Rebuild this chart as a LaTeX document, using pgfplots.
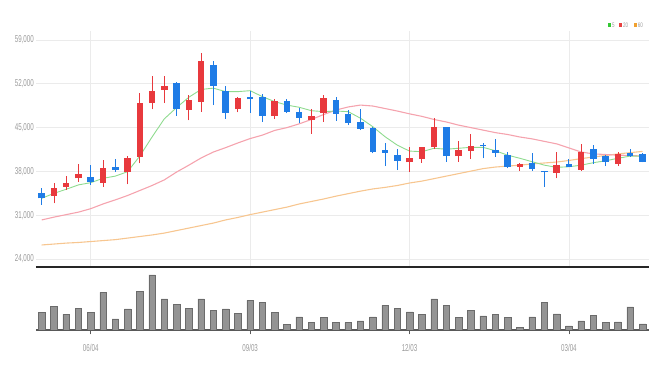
\documentclass[border=0pt]{standalone}
\usepackage{pgfplots}
\pgfplotsset{compat=1.18}
\usepackage{pgfplotstable}
\usepackage{fontspec}
\setmainfont{Liberation Sans}
\definecolor{cred}{HTML}{E8393D}
\definecolor{cblue}{HTML}{1F7CE6}
\definecolor{mafive}{HTML}{8FDB8F}
\definecolor{matwenty}{HTML}{F5A3AE}
\definecolor{masixty}{HTML}{F7C690}
\definecolor{gridc}{HTML}{EBEBEB}
\definecolor{labc}{HTML}{9A9A9A}
\definecolor{lgreen}{HTML}{33C833}
\definecolor{lred}{HTML}{E84040}
\definecolor{lorange}{HTML}{F0A030}

\pgfplotstableread{
i O H L C
1 34100 36200 32900 35300
2 35550 37250 35050 36200
3 36900 39200 36350 37550
5 36200 39800 35550 38500
7 37850 40450 35950 40100
8 40350 50500 39300 49000
9 48900 53250 47900 50850
10 51000 53250 48900 51650
12 47800 50200 46150 49400
13 49150 56900 47550 55700
16 47900 49950 47450 49700
19 46850 49500 46350 49300
22 46200 47900 44000 46900
23 47300 50200 45950 49800
30 39450 41850 37950 40100
31 40000 41950 39400 41850
32 41850 46500 41550 45050
34 40450 42900 39550 41400
35 41300 44000 39950 42050
39 38750 39300 38100 39150
42 37800 41150 36900 39000
44 38200 42400 38100 41150
47 39150 41150 38850 40800
}\up

\pgfplotstableread{
i O H L C
0 34600 35300 32650 33700
4 37100 39000 35850 36250
6 38750 39950 37950 38200
11 52100 52350 46900 47900
14 55000 55700 48600 51700
15 50850 51650 46400 47400
17 49950 50900 47400 49500
18 49950 50300 45950 46900
20 49300 49500 47300 47550
21 47550 48100 45800 46600
24 49400 49950 46100 47200
25 47200 47800 45400 45700
26 45850 47950 44600 44800
27 44900 45050 40900 41150
28 41400 42500 38850 41000
29 40600 41550 38200 39700
33 45050 45150 39550 40450
36 42200 42500 40100 42050
37 41400 43150 40350 41000
38 40600 41150 38500 38750
40 39300 41000 38100 38350
41 38100 38100 35550 37850
43 39200 39950 38650 38650
45 41600 42200 39200 39950
46 40500 40600 38850 39550
48 41000 41550 40350 40450
49 40800 40900 39450 39550
}\down

\pgfplotstableread{
i m5 m20 m60
0 33700 30250 26250
1 34500 30700 26400
2 35150 31100 26550
3 35850 31500 26650
4 36200 32050 26800
5 36900 32800 26950
6 37250 33450 27100
7 37950 34150 27350
8 40450 34950 27600
9 43500 35750 27850
10 46400 36650 28150
11 48200 37900 28550
12 49850 39000 28950
13 51100 40150 29350
14 51300 41100 29750
15 50750 41800 30250
16 50750 42550 30650
17 50900 43250 31100
18 49950 43800 31500
19 49150 44550 31900
20 48600 45000 32300
21 48250 45600 32800
22 47700 46300 33200
23 47550 47100 33600
24 47650 47800 34050
25 47550 48300 34450
26 46500 48600 34850
27 45150 48450 35200
28 43550 48050 35450
29 42200 47650 35750
30 41250 47200 36150
31 41150 46800 36450
32 41700 46300 36850
33 41550 45900 37250
34 41700 45400 37650
35 41850 45000 38050
36 41850 44600 38450
37 41300 44200 38700
38 40600 43900 38850
39 40100 43500 39000
40 39550 43200 39200
41 39000 42800 39350
42 38650 42400 39500
43 38750 41750 39750
44 39000 41100 40050
45 39400 40800 40300
46 39700 40700 40550
47 40100 40600 40800
48 40450 40550 41000
49 40450 40450 41200
}\ma

\pgfplotstableread{
i v
0 17700
1 23300
2 15700
3 21700
4 17300
5 37700
6 11000
7 21000
8 38300
9 55000
10 31000
11 25700
12 21700
13 31000
14 19700
15 21000
16 16300
17 29700
18 27300
19 17700
20 5700
21 13000
22 7700
23 12300
24 7300
25 7300
26 9000
27 13000
28 24700
29 21700
30 18000
31 15700
32 31000
33 24700
34 12300
35 19700
36 14000
37 15700
38 12300
39 2700
40 13000
41 27700
42 16000
43 4000
44 9000
45 14700
46 7700
47 8000
48 23000
49 6000
}\vol

\begin{document}
\begin{tikzpicture}[x=1pt,y=1pt]
\path[use as bounding box] (0,0) rectangle (663,371);
\begin{axis}[at={(36pt,103.8pt)}, anchor=south west, scale only axis,
  width=612.5pt, height=236.6pt,
  xmin=-0.465, xmax=49.49, ymin=22700, ymax=60500,
  scaled y ticks=false,
  axis x line*=bottom, axis y line*=left,
  x axis line style={draw=black!85, line width=1.6pt, -},
  y axis line style={draw=none},
  xtick={4,17,30,43}, xticklabels={},
  ytick={24000,31000,38000,45000,52000,59000},
  yticklabels={{24,000},{31,000},{38,000},{45,000},{52,000},{59,000}},
  major tick length=0pt,
  grid=major, grid style={gridc, line width=0.7pt},
  yticklabel style={font=\fontsize{10}{10}\selectfont, text=labc, xscale=0.62, anchor=east},
]
\addplot[masixty, line width=1.1pt, no marks] table[x=i,y=m60]{\ma};
\addplot[matwenty, line width=1.1pt, no marks] table[x=i,y=m20]{\ma};
\addplot[mafive, line width=0.9pt, no marks] table[x=i,y=m5]{\ma};
% up candles
\addplot[draw=none, no marks, forget plot, error bars/.cd, y dir=plus, y explicit, error mark=none,
  error bar style={draw=cred, line width=0.9pt}]
  table[x=i, y=L, y error expr=\thisrow{H}-\thisrow{L}]{\up};
\addplot[draw=none, no marks, forget plot, error bars/.cd, y dir=plus, y explicit, error mark=none,
  error bar style={draw=cred, line width=6.5pt}]
  table[x=i, y=O, y error expr=\thisrow{C}-\thisrow{O}]{\up};
% down candles
\addplot[draw=none, no marks, forget plot, error bars/.cd, y dir=plus, y explicit, error mark=none,
  error bar style={draw=cblue, line width=0.9pt}]
  table[x=i, y=L, y error expr=\thisrow{H}-\thisrow{L}]{\down};
\addplot[draw=none, no marks, forget plot, error bars/.cd, y dir=plus, y explicit, error mark=none,
  error bar style={draw=cblue, line width=6.5pt}]
  table[x=i, y=C, y error expr=\thisrow{O}-\thisrow{C}]{\down};
\end{axis}

\begin{axis}[at={(36pt,41pt)}, anchor=south west, scale only axis,
  width=612.5pt, height=60pt,
  xmin=-0.465, xmax=49.49, ymin=0, ymax=60000,
  scaled y ticks=false,
  axis x line*=bottom, axis y line=none,
  x axis line style={draw=black!65, line width=1.2pt, -},
  xtick={4,17,30,43}, xticklabels={06/04,09/03,12/03,03/04},
  xtick style={draw=black!65, line width=0.8pt},
  tick align=outside, major tick length=4.5pt,
  xticklabel style={font=\fontsize{10}{10}\selectfont, text=labc, xscale=0.62, yshift=-6pt},
  ytick=\empty,
]
\addplot[ybar, bar width=6.5pt, fill=black!42, draw=black!58, line width=0.5pt] table[x=i,y=v]{\vol};
\end{axis}

\fill[lgreen] (608,343.7) rectangle (611,348.3);
\node[anchor=west, inner sep=0pt, font=\fontsize{6.5}{6.5}\selectfont, text=labc, xscale=0.7] at (612,346) {5};
\fill[lred] (619.3,343.7) rectangle (622.3,348.3);
\node[anchor=west, inner sep=0pt, font=\fontsize{6.5}{6.5}\selectfont, text=labc, xscale=0.7] at (623,346) {20};
\fill[lorange] (634,343.7) rectangle (637,348.3);
\node[anchor=west, inner sep=0pt, font=\fontsize{6.5}{6.5}\selectfont, text=labc, xscale=0.7] at (637.8,346) {60};
\end{tikzpicture}
\end{document}
